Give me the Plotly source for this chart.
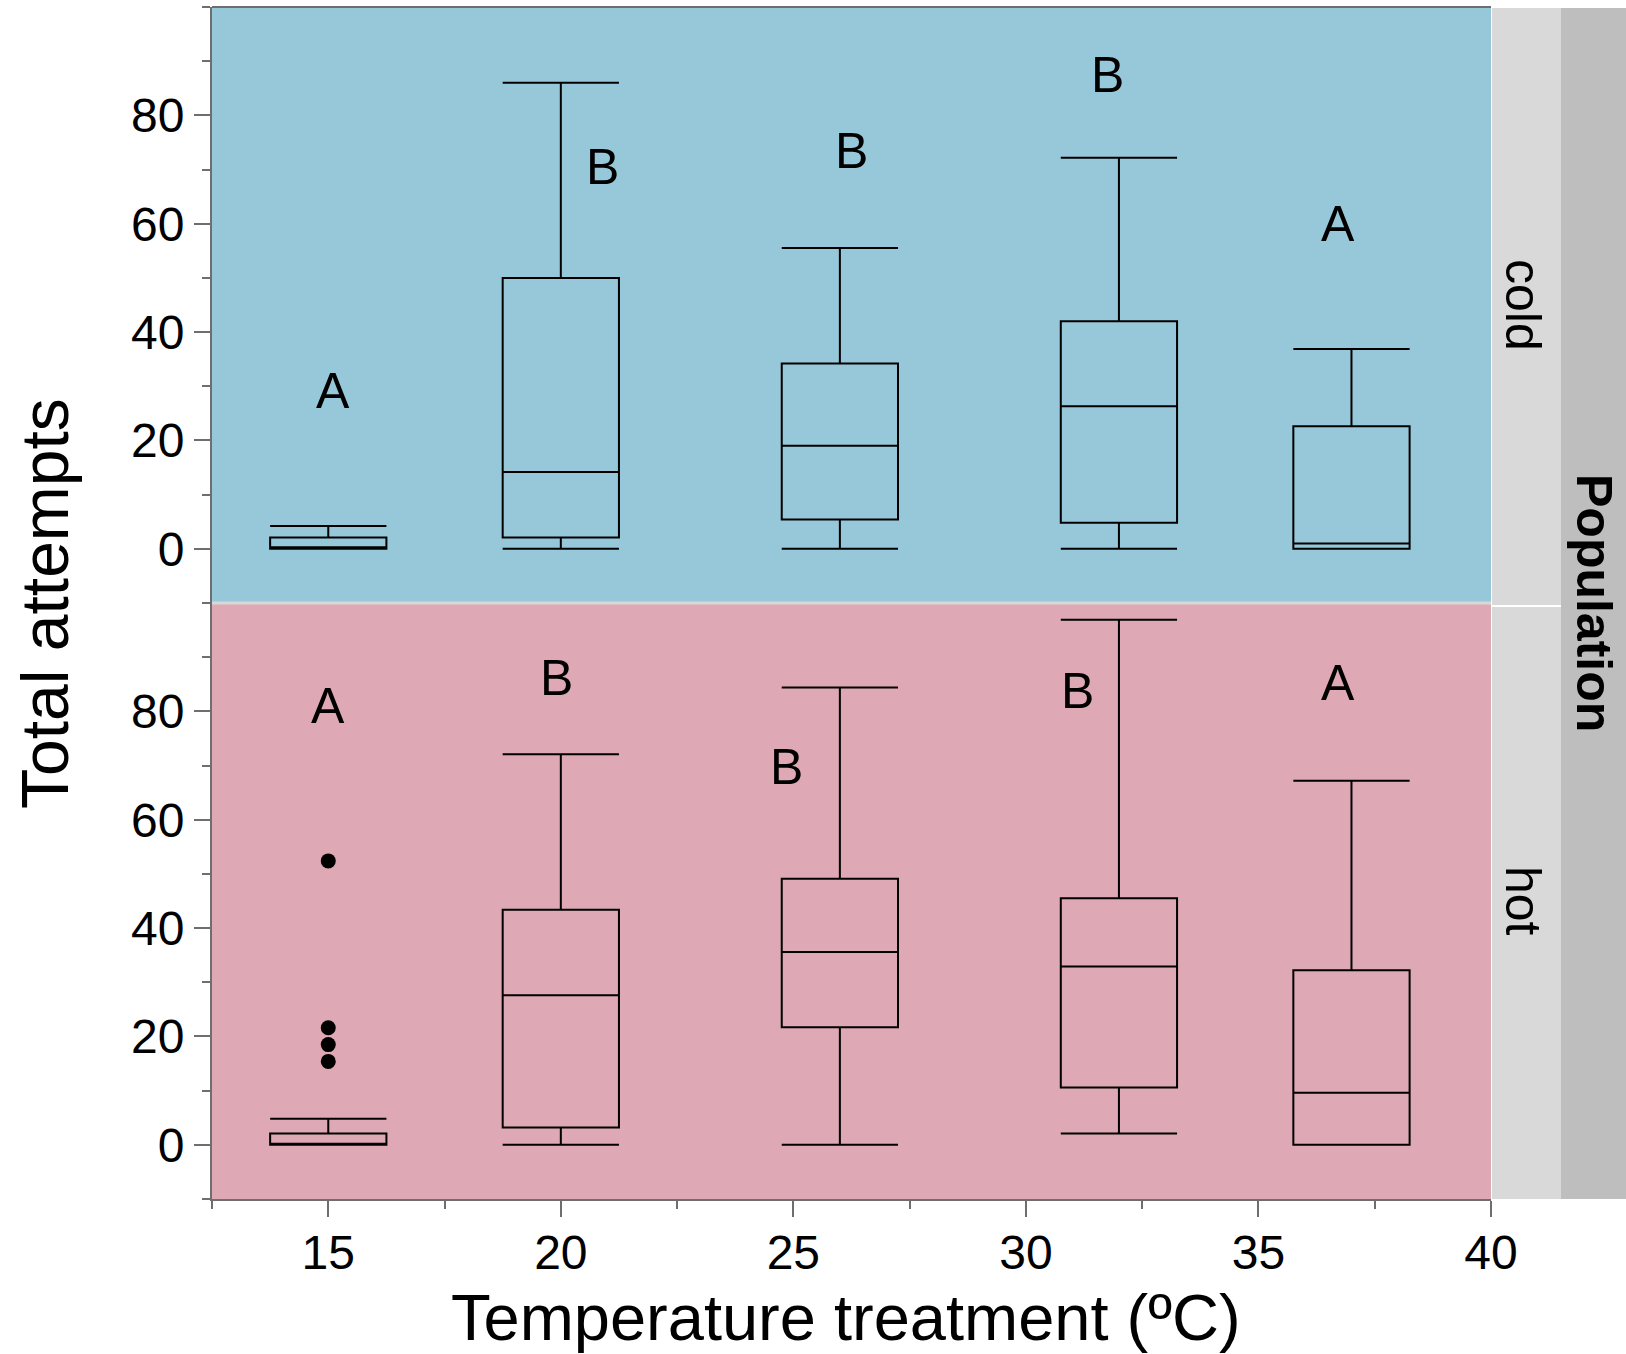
import plotly.graph_objects as go
from plotly.subplots import make_subplots

# ---------------- data ----------------
positions = [15, 20, 26, 32, 37]

cold_lower = [0, 0, 0, 0, 0]
cold_q1 = [0, 2.1, 5.4, 4.8, 0]
cold_median = [0.3, 14.2, 19.0, 26.3, 1.0]
cold_q3 = [2.1, 50.0, 34.2, 42.0, 22.6]
cold_upper = [4.2, 86.0, 55.5, 72.2, 36.9]

hot_lower = [0, 0, 0, 2.1, 0]
hot_q1 = [0, 3.2, 21.7, 10.6, 0]
hot_median = [0, 27.6, 35.6, 32.9, 9.6]
hot_q3 = [2.1, 43.4, 49.1, 45.5, 32.2]
hot_upper = [4.8, 72.1, 84.4, 96.9, 67.2]

hot_outlier_x = [15, 15, 15, 15]
hot_outlier_y = [52.4, 21.6, 18.5, 15.4]

cold_letters = ["A", "B", "B", "B", "A"]
cold_letter_x = [15.1, 20.9, 26.25, 31.75, 36.7]
cold_letter_y = [29.2, 70.4, 73.5, 87.5, 59.9]

hot_letters = ["A", "B", "B", "B", "A"]
hot_letter_x = [15.0, 19.9, 24.85, 31.1, 36.7]
hot_letter_y = [81.0, 86.2, 69.8, 83.7, 85.2]

x_ticks = [15, 20, 25, 30, 35, 40]
y_ticks = [0, 20, 40, 60, 80]
panels = ["cold", "hot"]

# ---------------- layout geometry ----------------
W, H = 1626, 1354
L, R, T, B = 212, 135, 7, 155


def px_x(p):
    return (p - L) / (W - L - R)


def px_y(p):
    return (H - B - p) / (H - T - B)


FONT = "Liberation Sans, Arial, Helvetica, sans-serif"
AXIS_GREY = "#6e6e6e"
BLUE = "#97c8da"
PINK = "#dea8b4"
STRIP1 = "#d9d9d9"
STRIP2 = "#bebebe"

fig = make_subplots(rows=2, cols=1, shared_xaxes=True, vertical_spacing=0)

box_style = dict(
    width=2.5,
    whiskerwidth=1,
    fillcolor="rgba(0,0,0,0)",
    line=dict(color="black", width=2),
    boxpoints=False,
    showlegend=False,
    hoverinfo="skip",
)

fig.add_trace(go.Box(x=positions, q1=cold_q1, median=cold_median, q3=cold_q3,
                     lowerfence=cold_lower, upperfence=cold_upper, **box_style),
              row=1, col=1)
fig.add_trace(go.Box(x=positions, q1=hot_q1, median=hot_median, q3=hot_q3,
                     lowerfence=hot_lower, upperfence=hot_upper, **box_style),
              row=2, col=1)
fig.add_trace(go.Scatter(x=hot_outlier_x, y=hot_outlier_y, mode="markers",
                         marker=dict(color="black", size=15),
                         showlegend=False, hoverinfo="skip"),
              row=2, col=1)

# significance letters
for lx, ly, lt in zip(cold_letter_x, cold_letter_y, cold_letters):
    fig.add_annotation(x=lx, y=ly, xref="x", yref="y", text=lt, showarrow=False,
                       xanchor="center", yanchor="middle",
                       font=dict(size=50, color="black", family=FONT))
for lx, ly, lt in zip(hot_letter_x, hot_letter_y, hot_letters):
    fig.add_annotation(x=lx, y=ly, xref="x2", yref="y2", text=lt, showarrow=False,
                       xanchor="center", yanchor="middle",
                       font=dict(size=50, color="black", family=FONT))

# panel backgrounds
fig.add_shape(type="rect", xref="x domain", yref="y domain", x0=0, x1=1, y0=0, y1=1,
              fillcolor=BLUE, line=dict(width=0), layer="below")
fig.add_shape(type="rect", xref="x2 domain", yref="y2 domain", x0=0, x1=1, y0=0, y1=1,
              fillcolor=PINK, line=dict(width=0), layer="below")
# divider between panels
fig.add_shape(type="line", xref="paper", yref="paper", x0=0, x1=1,
              y0=px_y(603), y1=px_y(603), line=dict(color="#d8d8d8", width=3))
# top border
fig.add_shape(type="line", xref="paper", yref="paper", x0=0, x1=1,
              y0=1, y1=1, line=dict(color=AXIS_GREY, width=2))

# facet strips
fig.add_shape(type="rect", xref="paper", yref="paper", x0=px_x(1492), x1=px_x(1561),
              y0=px_y(605), y1=px_y(8), fillcolor=STRIP1, line=dict(width=0))
fig.add_shape(type="rect", xref="paper", yref="paper", x0=px_x(1492), x1=px_x(1561),
              y0=px_y(1199), y1=px_y(607), fillcolor=STRIP1, line=dict(width=0))
fig.add_shape(type="rect", xref="paper", yref="paper", x0=px_x(1561), x1=px_x(1626),
              y0=px_y(1199), y1=px_y(8), fillcolor=STRIP2, line=dict(width=0))

strip_font = dict(size=50, color="black", family=FONT)
fig.add_annotation(x=px_x(1523), y=px_y(305), xref="paper", yref="paper", text=panels[0],
                   textangle=90, showarrow=False, xanchor="center", yanchor="middle",
                   font=strip_font)
fig.add_annotation(x=px_x(1523), y=px_y(901), xref="paper", yref="paper", text=panels[1],
                   textangle=90, showarrow=False, xanchor="center", yanchor="middle",
                   font=strip_font)
fig.add_annotation(x=px_x(1594), y=px_y(603), xref="paper", yref="paper",
                   text="<b>Population</b>", textangle=90, showarrow=False,
                   xanchor="center", yanchor="middle", font=strip_font)

# axis titles
fig.add_annotation(x=px_x(45), y=px_y(604), xref="paper", yref="paper",
                   text="Total attempts", textangle=-90, showarrow=False,
                   xanchor="center", yanchor="middle",
                   font=dict(size=66, color="black", family=FONT))
fig.add_annotation(x=px_x(846), y=px_y(1317), xref="paper", yref="paper",
                   text="Temperature treatment (ºC)", showarrow=False,
                   xanchor="center", yanchor="middle",
                   font=dict(size=65, color="black", family=FONT))

yaxis_style = dict(
    range=[-10, 100],
    tickvals=y_ticks,
    ticks="outside",
    ticklen=16,
    tickwidth=2,
    tickcolor=AXIS_GREY,
    showline=True,
    linecolor=AXIS_GREY,
    linewidth=2,
    showgrid=False,
    zeroline=False,
    tickfont=dict(size=48, color="black", family=FONT),
    minor=dict(dtick=10, tick0=0, ticks="outside", ticklen=8, tickwidth=2,
               tickcolor=AXIS_GREY, showgrid=False),
)
fig.update_yaxes(**yaxis_style, row=1, col=1)
fig.update_yaxes(**yaxis_style, row=2, col=1)

fig.update_xaxes(range=[12.5, 40], showgrid=False, zeroline=False, showline=False,
                 ticks="", showticklabels=False, row=1, col=1)
fig.update_xaxes(
    range=[12.5, 40],
    tickvals=x_ticks,
    ticks="outside",
    ticklen=16,
    tickwidth=2,
    tickcolor=AXIS_GREY,
    showline=True,
    linecolor=AXIS_GREY,
    linewidth=2,
    showgrid=False,
    zeroline=False,
    ticklabelstandoff=-6,
    tickfont=dict(size=48, color="black", family=FONT),
    minor=dict(dtick=2.5, tick0=0, ticks="outside", ticklen=8, tickwidth=2,
               tickcolor=AXIS_GREY, showgrid=False),
    row=2, col=1,
)

fig.update_layout(
    width=W,
    height=H,
    margin=dict(l=L, r=R, t=T, b=B, pad=0),
    paper_bgcolor="white",
    plot_bgcolor="white",
    font=dict(family=FONT, color="black"),
    showlegend=False,
)

fig.write_html("out.html")
